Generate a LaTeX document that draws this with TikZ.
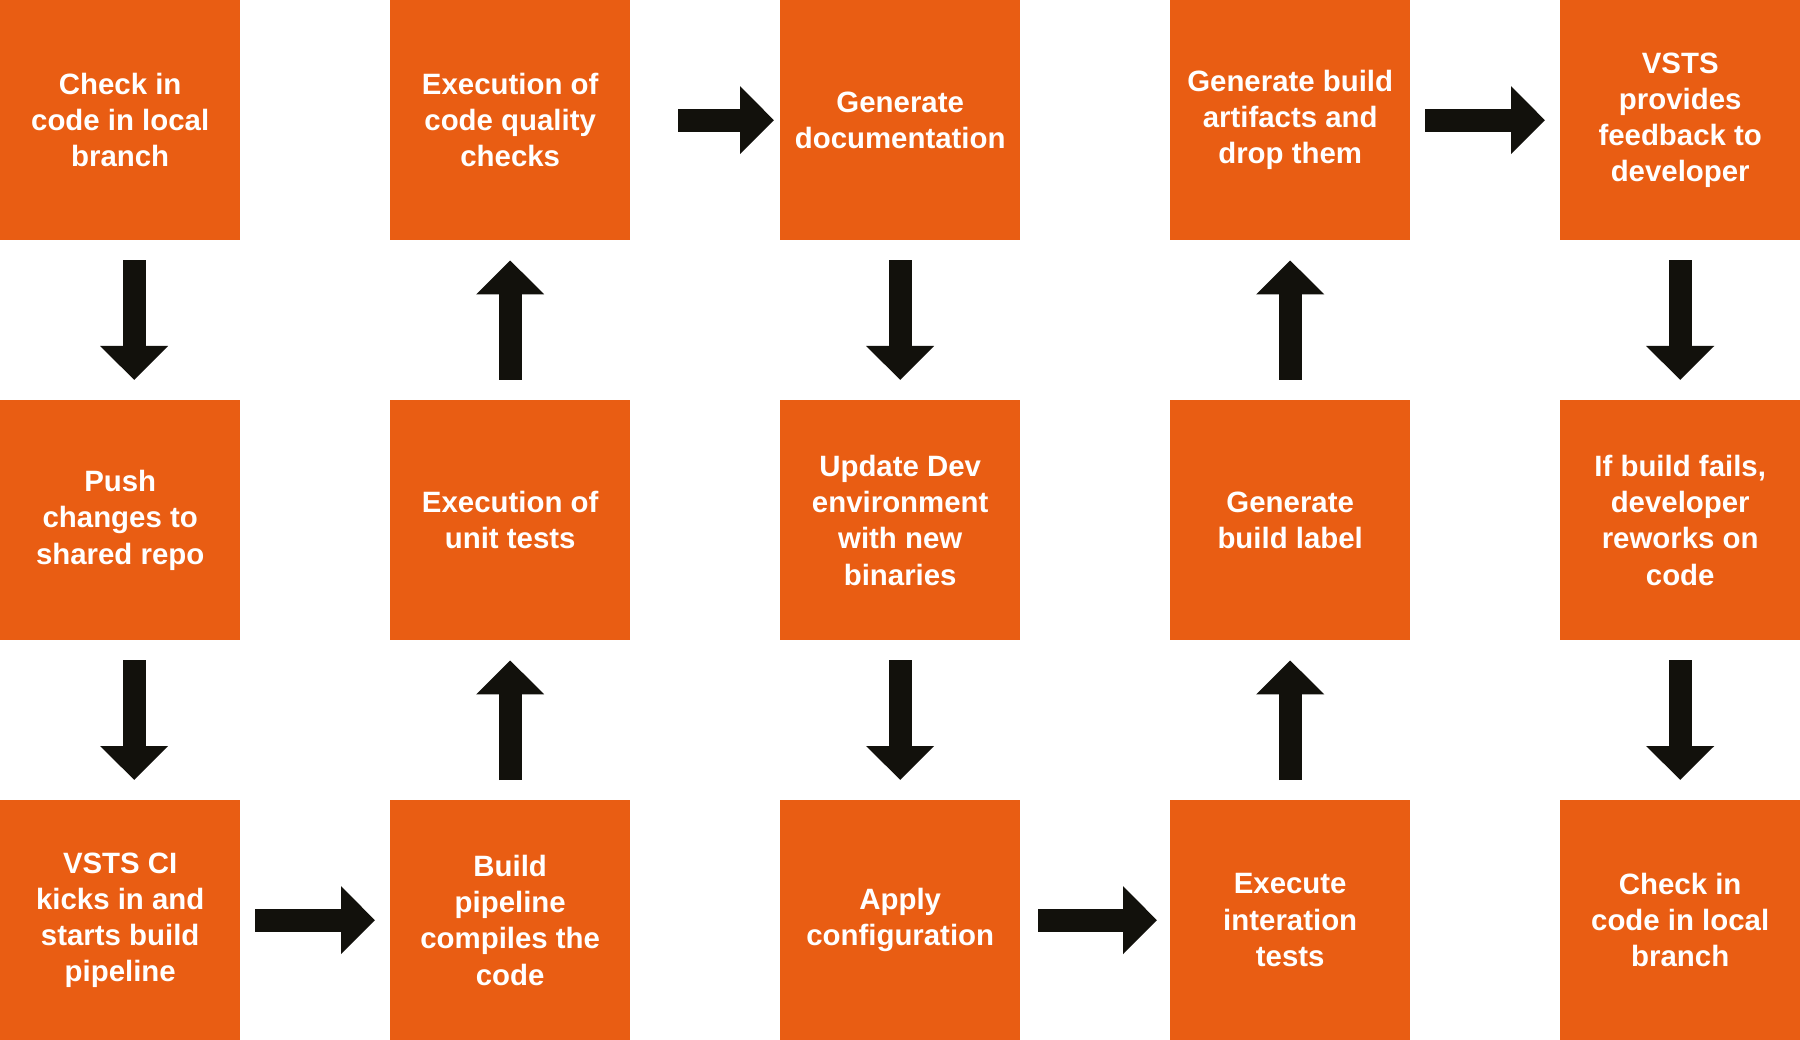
\documentclass[tikz,border=0pt]{standalone}
\usepackage{fontspec}
\setmainfont{Liberation Sans}
\usetikzlibrary{arrows.meta}
\definecolor{boxorange}{RGB}{233,93,19}
\definecolor{arrowblack}{RGB}{18,17,12}
\tikzset{
  stepbox/.style={anchor=north west, minimum width=240pt, minimum height=240pt, inner sep=0pt,
    fill=boxorange, text=white, align=center, font=\bfseries\fontsize{29.4}{36.2}\selectfont},
  flowarrow/.style={draw=arrowblack, line width=23pt, -{Triangle[width=66pt,length=34pt]}},
  vgap/.style={shorten <=20pt, shorten >=20pt},
  hgap/.style={shorten <=15pt, shorten >=15pt}
}
\begin{document}
\begin{tikzpicture}[x=1pt,y=1pt]
\useasboundingbox (0,0) rectangle (1800,-1040);
% row 1
\node[stepbox] (a1) at (0,0) {Check in\\code in local\\branch};
\node[stepbox] (b1) at (390,0) {Execution of\\code quality\\checks};
\node[stepbox] (c1) at (780,0) {Generate\\documentation};
\node[stepbox] (d1) at (1170,0) {Generate build\\artifacts and\\drop them};
\node[stepbox] (e1) at (1560,0) {VSTS\\provides\\feedback to\\developer};
% row 2
\node[stepbox] (a2) at (0,-400) {Push\\changes to\\shared repo};
\node[stepbox] (b2) at (390,-400) {Execution of\\unit tests};
\node[stepbox] (c2) at (780,-400) {Update Dev\\environment\\with new\\binaries};
\node[stepbox] (d2) at (1170,-400) {Generate\\build label};
\node[stepbox] (e2) at (1560,-400) {If build fails,\\developer\\reworks on\\code};
% row 3
\node[stepbox] (a3) at (0,-800) {VSTS CI\\kicks in and\\starts build\\pipeline};
\node[stepbox] (b3) at (390,-800) {Build\\pipeline\\compiles the\\code};
\node[stepbox] (c3) at (780,-800) {Apply\\configuration};
\node[stepbox] (d3) at (1170,-800) {Execute\\interation\\tests};
\node[stepbox] (e3) at (1560,-800) {Check in\\code in local\\branch};
% arrows
\draw[flowarrow, vgap] ([xshift=14pt]a1.south) -- ([xshift=14pt]a2.north);
\draw[flowarrow, vgap] ([xshift=14pt]a2.south) -- ([xshift=14pt]a3.north);
\draw[flowarrow, hgap] (a3.east) -- (b3.west);
\draw[flowarrow, vgap] (b3.north) -- (b2.south);
\draw[flowarrow, vgap] (b2.north) -- (b1.south);
\draw[flowarrow, shorten <=48pt, shorten >=6pt] (b1.east) -- (c1.west);
\draw[flowarrow, vgap] (c1.south) -- (c2.north);
\draw[flowarrow, vgap] (c2.south) -- (c3.north);
\draw[flowarrow, shorten <=18pt, shorten >=13pt] (c3.east) -- (d3.west);
\draw[flowarrow, vgap] (d3.north) -- (d2.south);
\draw[flowarrow, vgap] (d2.north) -- (d1.south);
\draw[flowarrow, hgap] (d1.east) -- (e1.west);
\draw[flowarrow, vgap] (e1.south) -- (e2.north);
\draw[flowarrow, vgap] (e2.south) -- (e3.north);
\end{tikzpicture}
\end{document}
